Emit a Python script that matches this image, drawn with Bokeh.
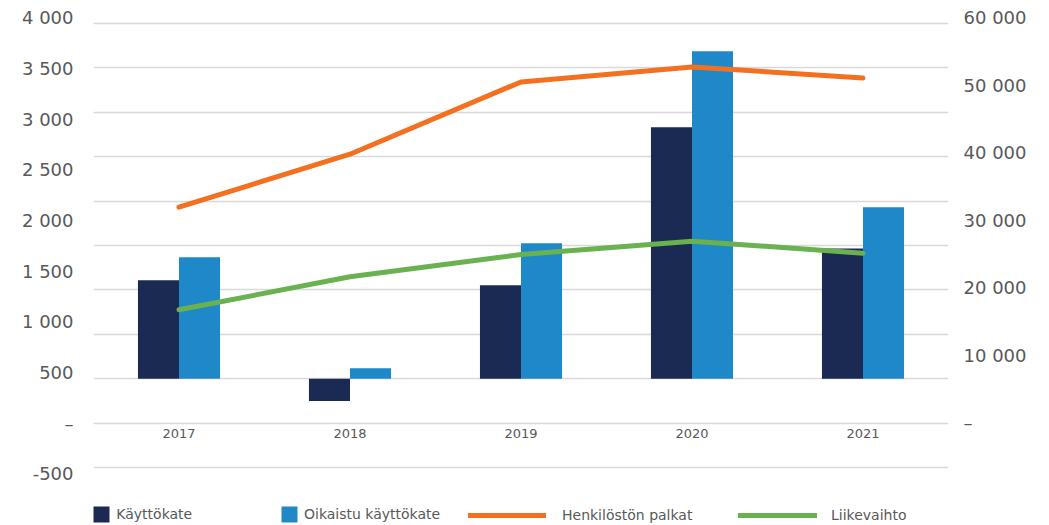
from bokeh.plotting import figure
from bokeh.models import (FactorRange, Range1d, LinearAxis, CategoricalAxis, FixedTicker, Grid,
                          ColumnDataSource, Legend, LegendItem)
from bokeh.transform import dodge
from bokeh.embed import file_html
from bokeh.resources import INLINE

# ---- data ----
years = ["2017", "2018", "2019", "2020", "2021"]
kayttokate = [1109, -250, 1053, 2832, 1466]          # Käyttökate (left axis)
oikaistu = [1368, 118, 1526, 3688, 1931]             # Oikaistu käyttökate (left axis)
palkat = [1931, 2528, 3342, 3511, 3387]              # Henkilöstön palkat (left axis)
liikevaihto = [16709, 21600, 24907, 26879, 25100]    # Liikevaihto (right axis)

grid_ticks = [-1000, -500, 0, 500, 1000, 1500, 2000, 2500, 3000, 3500, 4000]
left_ticks = [-500, 0, 500, 1000, 1500, 2000, 2500, 3000, 3500, 4000]
left_labels = ["-500", "–", "500", "1 000", "1 500", "2 000", "2 500", "3 000", "3 500", "4 000"]
right_ticks = [0, 10000, 20000, 30000, 40000, 50000, 60000]
right_labels = ["–", "10 000", "20 000", "30 000", "40 000", "50 000", "60 000"]

FONT = "DejaVu Sans"
TXT = "#595959"

source = ColumnDataSource(dict(year=years, k=kayttokate, o=oikaistu, p=palkat, l=liikevaihto))

p = figure(width=1049, height=525,
           x_range=FactorRange(*years), y_range=Range1d(-1653.2, 4146.4),
           output_backend="svg", toolbar_location=None,
           x_axis_location=None, y_axis_location=None,
           min_border_left=93, min_border_right=101, min_border_top=10, min_border_bottom=0,
           outline_line_color=None, background_fill_color="white")
p.x_range.range_padding = 0
p.center = [c for c in p.center if not isinstance(c, Grid)]
p.extra_y_ranges = {"leftlab": Range1d(-1010.6, 4071.8), "rightlab": Range1d(-15270.6, 61082.3)}

grid = Grid(dimension=1, ticker=FixedTicker(ticks=grid_ticks),
            grid_line_color="#d9d9d9", grid_line_width=1.5)
p.add_layout(grid)

la = LinearAxis(y_range_name="leftlab", ticker=FixedTicker(ticks=left_ticks),
                major_label_overrides=dict(zip(left_ticks, left_labels)),
                axis_line_color=None, major_tick_line_color=None, minor_tick_line_color=None,
                major_tick_out=0, major_tick_in=0, major_label_standoff=20,
                major_label_text_font=FONT, major_label_text_font_size="18px",
                major_label_text_color=TXT)
p.add_layout(la, "left")

ra = LinearAxis(y_range_name="rightlab", ticker=FixedTicker(ticks=right_ticks),
                major_label_overrides=dict(zip(right_ticks, right_labels)),
                axis_line_color=None, major_tick_line_color=None, minor_tick_line_color=None,
                major_tick_out=0, major_tick_in=0, major_label_standoff=15,
                major_label_text_font=FONT, major_label_text_font_size="18px",
                major_label_text_color=TXT)
p.add_layout(ra, "right")

xa = CategoricalAxis(fixed_location=-500,
                     axis_line_color=None, major_tick_line_color=None, minor_tick_line_color=None,
                     major_tick_out=0, major_tick_in=0, major_label_standoff=6,
                     major_label_text_font=FONT, major_label_text_font_size="13px",
                     major_label_text_color=TXT)
p.add_layout(xa, "below")

r1 = p.vbar(x=dodge("year", -0.12, range=p.x_range), top="k", bottom=0, width=0.24,
            source=source, fill_color="#1b2a52", line_color=None)
r2 = p.vbar(x=dodge("year", 0.12, range=p.x_range), top="o", bottom=0, width=0.24,
            source=source, fill_color="#1e88c8", line_color=None)
r3 = p.line(x="year", y="p", source=source, line_color="#f37021", line_width=5,
            line_cap="round", line_join="round")
r4 = p.line(x="year", y="l", source=source, y_range_name="rightlab", line_color="#6ab150",
            line_width=5, line_cap="round", line_join="round")

def mk_legend(label, r, loc, gw, standoff):
    lg = Legend(items=[LegendItem(label=label, renderers=[r])], location=loc,
                orientation="horizontal", glyph_width=gw, glyph_height=20,
                label_standoff=standoff, padding=0, margin=0, spacing=0,
                border_line_color=None, background_fill_alpha=0,
                label_text_font=FONT, label_text_font_size="14px", label_text_color=TXT)
    p.add_layout(lg)

mk_legend("Käyttökate", r1, (-1.7, 1), 20, 5)
mk_legend("Oikaistu käyttökate", r2, (186, 1), 20, 5)
mk_legend("Henkilöstön palkat", r3, (375, 0), 78, 16)
mk_legend("Liikevaihto", r4, (645, 0), 79, 14)

open("out.html", "w").write(file_html(p, INLINE))
